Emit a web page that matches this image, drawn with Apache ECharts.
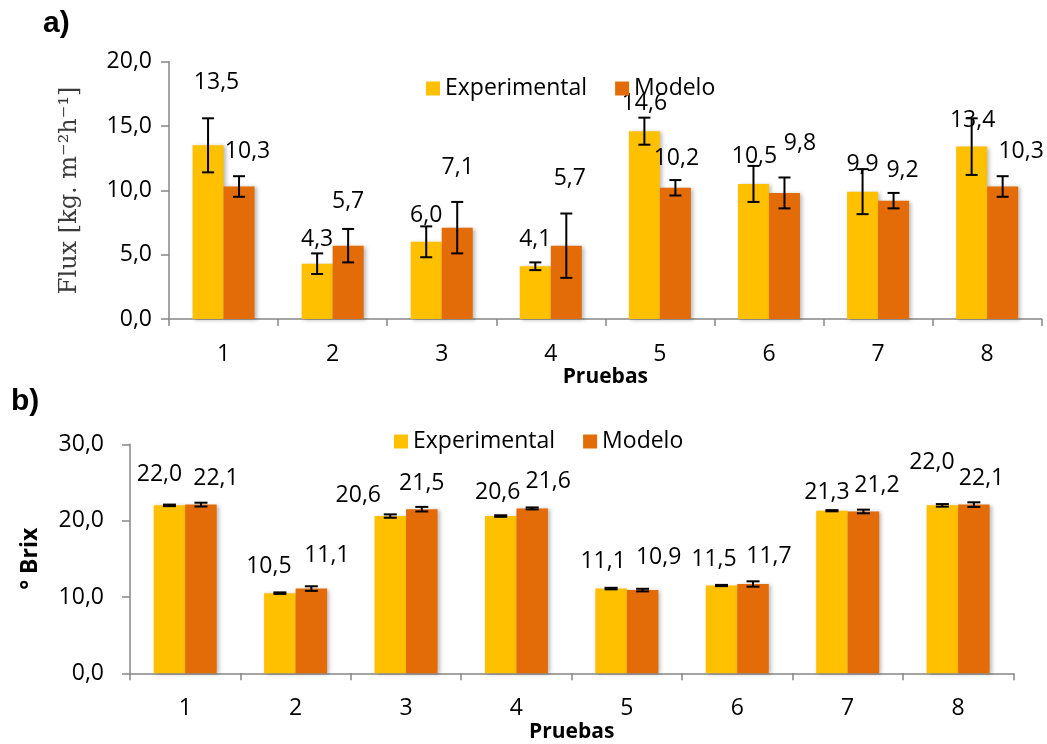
<!DOCTYPE html>
<html>
<head>
<meta charset="utf-8">
<script src="https://cdn.jsdelivr.net/npm/echarts@6/dist/echarts.min.js"></script>
<style>
  html, body { margin: 0; padding: 0; background: #fff; }
  #chart { width: 1047px; height: 744px; }
</style>
</head>
<body>
<div id="chart"></div>
<script>
// ---- data ----
const pruebas = ['1', '2', '3', '4', '5', '6', '7', '8'];

// a) permeate flux
const fluxExp = [13.5, 4.3, 6.0, 4.1, 14.6, 10.5, 9.9, 13.4];
const fluxMod = [10.3, 5.7, 7.1, 5.7, 10.2, 9.8, 9.2, 10.3];
const fluxExpErr = [2.1, 0.8, 1.2, 0.3, 1.05, 1.4, 1.75, 2.2];
const fluxModErr = [0.8, 1.3, 2.0, 2.5, 0.6, 1.2, 0.6, 0.8];

// b) soluble solids
const brixExp = [22.0, 10.5, 20.6, 20.6, 11.1, 11.5, 21.3, 22.0];
const brixMod = [22.1, 11.1, 21.5, 21.6, 10.9, 11.7, 21.2, 22.1];
const brixExpErr = [0.1, 0.1, 0.22, 0.1, 0.1, 0.08, 0.08, 0.17];
const brixModErr = [0.25, 0.3, 0.3, 0.13, 0.17, 0.35, 0.24, 0.3];

// value label nudges in px [dx, dy], relative to the bar top
const fluxExpNudge = [[8.5, -51], [0, -13], [0, -15], [0, -15], [0, -16], [1, -16], [0, -16], [1, -15]];
const fluxModNudge = [[8.5, -24], [0, -33], [0.5, -49], [3.5, -56], [1, -18], [15.5, -38], [9, -19], [18.5, -24]];
const brixExpNudge = [[-10, -19], [-11, -15], [-32, -9], [-3, -12], [-8, -16], [-7.5, -15], [-5, -7], [-10.5, -31]];
const brixModNudge = [[15, -15], [15.5, -22], [0, -14], [16, -15], [16, -21], [16, -16], [13.5, -15], [7.7, -15]];

// ---- styling ----
const FONT = '"Open Sans", "Noto Sans", sans-serif';
const YELLOW = '#FFC000';
const ORANGE = '#E36C09';
const AXIS_GREY = '#868686';
const fmt = v => v.toFixed(1).replace('.', ',');

function barData(values, nudges) {
  return values.map((v, i) => ({
    value: v,
    label: { offset: nudges[i] }
  }));
}

function errData(values, errs) {
  return values.map((v, i) => [i, v - errs[i], v + errs[i]]);
}

function barSeries(name, color, values, nudges, axisIdx, bw) {
  return {
    name: name,
    type: 'bar',
    xAxisIndex: axisIdx,
    yAxisIndex: axisIdx,
    barWidth: bw,
    barGap: '0%',
    itemStyle: {
      color: color,
      shadowColor: 'rgba(0,0,0,0.28)',
      shadowBlur: 4,
      shadowOffsetX: 2,
      shadowOffsetY: 1
    },
    label: {
      show: true,
      position: 'top',
      distance: 0,
      fontFamily: FONT,
      fontSize: 23,
      color: '#000',
      formatter: p => fmt(p.value)
    },
    data: barData(values, nudges),
    z: 2
  };
}

function errSeries(values, errs, axisIdx, shift, capW) {
  return {
    type: 'custom',
    xAxisIndex: axisIdx,
    yAxisIndex: axisIdx,
    silent: true,
    z: 5,
    data: errData(values, errs),
    renderItem: function (params, api) {
      const idx = api.value(0);
      const lo = api.coord([idx, api.value(1)]);
      const hi = api.coord([idx, api.value(2)]);
      const x = lo[0] + shift;
      const h = capW / 2;
      const style = { stroke: '#000', lineWidth: 2 };
      return {
        type: 'group',
        children: [
          { type: 'line', shape: { x1: x, y1: lo[1], x2: x, y2: hi[1] }, style: style },
          { type: 'line', shape: { x1: x - h, y1: lo[1], x2: x + h, y2: lo[1] }, style: style },
          { type: 'line', shape: { x1: x - h, y1: hi[1], x2: x + h, y2: hi[1] }, style: style }
        ]
      };
    }
  };
}

function catAxis(gridIndex, nameGap) {
  return {
    type: 'category',
    gridIndex: gridIndex,
    data: pruebas,
    name: 'Pruebas',
    nameLocation: 'middle',
    nameGap: nameGap,
    nameTextStyle: { fontFamily: FONT, fontSize: 21, fontWeight: 'bold', color: '#000' },
    axisLine: { lineStyle: { color: AXIS_GREY, width: 1.5 } },
    axisTick: { show: true, length: 7, lineStyle: { color: AXIS_GREY, width: 1.5 } },
    axisLabel: { fontFamily: FONT, fontSize: 23, color: '#000', margin: 24 },
    splitLine: { show: false }
  };
}

function valAxis(gridIndex, max, interval, labelMargin, nameOpts) {
  return Object.assign({
    type: 'value',
    gridIndex: gridIndex,
    min: 0,
    max: max,
    interval: interval,
    nameLocation: 'middle',
    nameRotate: 90,
    axisLine: { show: true, lineStyle: { color: AXIS_GREY, width: 1.5 } },
    axisTick: { show: true, length: 8, lineStyle: { color: AXIS_GREY, width: 1.5 } },
    axisLabel: { fontFamily: FONT, fontSize: 23, color: '#000', margin: labelMargin, formatter: fmt },
    splitLine: { show: false }
  }, nameOpts);
}

const legendBase = {
  data: ['Experimental', 'Modelo'],
  itemWidth: 14,
  itemHeight: 14,
  itemGap: 28,
  icon: 'rect',
  selectedMode: false,
  textStyle: { fontFamily: FONT, fontSize: 23, color: '#000' }
};

const chart = echarts.init(document.getElementById('chart'), null, { renderer: 'canvas' });

chart.setOption({
  animation: false,
  backgroundColor: '#fff',
  color: [YELLOW, ORANGE],
  grid: [
    { left: 169, top: 61.7, right: 5.3, bottom: 425, containLabel: false },
    { left: 130, top: 444.3, right: 33.7, bottom: 70.7, containLabel: false }
  ],
  legend: [
    Object.assign({ left: 421, top: 72 }, legendBase),
    Object.assign({ left: 389, top: 425 }, legendBase)
  ],
  graphic: [
    { type: 'text', left: 43, top: 9, style: { text: 'a)', font: 'bold 30px "Liberation Sans", Arial, sans-serif', fill: '#000' } },
    { type: 'text', left: 11, top: 387, style: { text: 'b)', font: 'bold 30px "Liberation Sans", Arial, sans-serif', fill: '#000' } }
  ],
  xAxis: [catAxis(0, 42), catAxis(1, 47)],
  yAxis: [
    valAxis(0, 20, 5, 17, {
      name: 'Flux [kg. m\u207B\u00B2h\u207B\u00B9]',
      nameGap: 87,
      nameTextStyle: { fontFamily: '"DejaVu Serif", "Liberation Serif", serif', fontSize: 24, color: '#3a3a3a' }
    }),
    valAxis(1, 30, 10, 26, {
      name: '\u00B0 Brix',
      nameGap: 88,
      nameTextStyle: { fontFamily: FONT, fontSize: 23, fontWeight: 'bold', color: '#000' }
    })
  ],
  series: [
    barSeries('Experimental', YELLOW, fluxExp, fluxExpNudge, 0, 31),
    barSeries('Modelo', ORANGE, fluxMod, fluxModNudge, 0, 31),
    errSeries(fluxExp, fluxExpErr, 0, -15.5, 12),
    errSeries(fluxMod, fluxModErr, 0, 15.5, 12),
    barSeries('Experimental', YELLOW, brixExp, brixExpNudge, 1, 31.5),
    barSeries('Modelo', ORANGE, brixMod, brixModNudge, 1, 31.5),
    errSeries(brixExp, brixExpErr, 1, -15.75, 13),
    errSeries(brixMod, brixModErr, 1, 15.75, 13)
  ]
});
</script>
</body>
</html>
